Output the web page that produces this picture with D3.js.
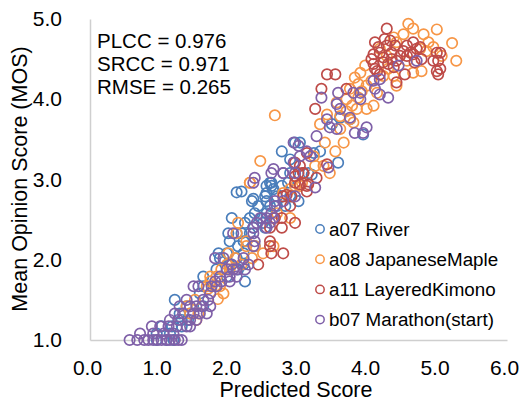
<!DOCTYPE html>
<html>
<head>
<meta charset="utf-8">
<script src="https://cdnjs.cloudflare.com/ajax/libs/d3/7.8.5/d3.min.js"></script>
<style>
  body { margin: 0; background: #fff; }
  svg { font-family: "Liberation Sans", Arial, sans-serif; }
  .axis .domain { stroke: #cfcfcf; stroke-width: 1.5; }
  .axis text { fill: #000; font-size: 21px; }
  .label { font-size: 21.5px; fill: #000; }
  .stats { font-size: 20.5px; fill: #000; }
  .legendText { font-size: 18.8px; fill: #000; }
</style>
</head>
<body>
<svg></svg>
<script>
// [predicted, MOS] pairs
var riverPts = [
  [0.96,1.0],[1.1,1.0],[1.2,1.0],[0.96,1.08],[1.15,1.08],
  [1.03,1.17],[1.18,1.17],[1.32,1.17],[1.32,1.25],[1.41,1.25],
  [1.29,1.33],[1.44,1.33],[1.39,1.42],[1.63,1.42],[1.22,1.5],
  [1.58,1.58],[1.63,1.67],[1.82,1.67],[2.23,1.73],[1.63,1.79],
  [1.97,1.79],[1.82,1.88],[2.13,1.88],[2.01,1.94],[2.21,1.94],
  [1.87,2.02],[2.11,2.02],[1.85,2.08],[1.97,2.08],[2.21,2.08],
  [2.13,2.17],[2.37,2.17],[2.01,2.23],[2.21,2.23],[1.99,2.33],
  [2.11,2.33],[2.18,2.33],[2.3,2.33],[2.35,2.4],[2.52,2.4],
  [2.23,2.46],[2.49,2.46],[2.04,2.52],[2.3,2.52],[2.47,2.52],
  [2.37,2.58],[2.54,2.58],[2.42,2.67],[2.59,2.67],[2.69,2.67],
  [2.81,2.67],[2.33,2.73],[2.54,2.73],[3.0,2.73],[2.52,2.79],
  [2.69,2.79],[2.88,2.79],[2.11,2.84],[2.54,2.92],[2.61,2.92],
  [2.76,2.92],[2.61,2.96],[2.85,2.96],[2.88,3.08],[3.07,3.08],
  [2.76,3.35],[2.95,3.46],[3.02,3.46],[3.31,3.35],[3.22,3.33],
  [3.57,3.21],[3.14,3.08],[3.19,3.06],[2.59,2.96],[2.64,2.88],
  [2.54,2.83],[2.35,2.76],[2.18,2.85],[3.93,3.56],[3.48,3.69],
  [3.6,3.77],[3.74,3.75],[2.88,3.25]
];
var maplePts = [
  [1.53,1.25],[1.44,1.33],[1.56,1.33],[1.39,1.42],[1.51,1.5],
  [1.92,1.58],[1.84,1.51],[1.7,1.64],[1.68,1.67],[1.8,1.67],
  [1.87,1.67],[1.73,1.73],[1.73,1.79],[1.82,1.79],[1.89,1.88],
  [2.01,1.88],[1.97,1.94],[2.18,1.94],[2.09,2.02],[2.33,2.02],
  [1.99,2.08],[2.49,2.08],[2.25,2.17],[2.37,2.17],[2.64,2.17],
  [2.25,2.23],[2.11,2.33],[2.13,2.46],[2.88,2.52],[2.69,2.58],
  [2.95,2.92],[3.02,2.92],[2.3,2.96],
  [4.58,4.94],[4.65,4.88],[4.8,4.81],[4.99,4.87],[5.21,4.7],
  [5.27,4.48],[4.87,4.71],[4.94,4.65],[4.77,4.35],[4.37,4.77],
  [4.51,4.81],[3.96,4.42],[3.89,4.33],[3.81,4.27],[3.86,4.19],
  [3.74,4.13],[3.69,4.0],[3.84,3.88],[3.98,3.88],[4.08,3.92],
  [3.74,3.75],[3.6,3.63],[3.41,3.81],[3.31,3.69],[3.65,3.46],
  [3.53,3.35],[3.38,3.46],[3.22,3.29],[2.66,3.8],[2.45,3.23],
  [2.3,2.96],[4.37,4.29],[4.65,4.33],[4.22,4.29],[4.41,4.17],
  [3.6,3.79],[3.79,3.71],[3.55,3.96],[3.98,4.17],[4.13,4.08],
  [4.05,4.23],[4.29,4.38],[4.56,4.48],[4.84,4.6],[4.75,4.63],
  [4.41,4.71],[4.27,4.54],[4.17,4.63],[5.06,4.54],[3.36,3.17],
  [3.24,3.17],[3.45,3.08],[3.05,2.96],[2.88,2.88],[2.78,2.83],
  [3.77,3.92],[3.86,4.02],[3.91,4.1],[3.69,3.85]
];
var kimonoPts = [
  [2.42,1.94],[2.61,2.08],[2.78,2.08],[2.59,2.17],[2.59,2.23],
  [2.59,2.4],[2.76,2.4],[2.95,2.46],[2.66,2.52],[2.76,2.52],
  [2.88,2.67],[2.78,2.79],[2.9,2.79],[2.95,2.96],[3.0,3.08],
  [3.07,3.08],[3.12,2.85],
  [4.27,4.88],[4.1,4.71],[4.24,4.75],[4.08,4.56],[4.17,4.58],
  [4.27,4.67],[4.34,4.58],[4.39,4.67],[4.46,4.54],[4.56,4.67],
  [4.65,4.71],[4.75,4.65],[4.65,4.56],[4.77,4.5],[4.56,4.54],
  [4.99,4.58],[5.04,4.58],[4.94,4.48],[5.01,4.48],[4.99,4.35],
  [5.04,4.38],[5.01,4.31],[4.08,4.44],[4.13,4.35],[4.17,4.31],
  [4.29,4.44],[4.37,4.4],[4.41,4.21],[4.53,4.31],[3.41,4.31],
  [3.53,4.31],[3.33,4.13],[3.24,3.88],[3.69,4.13],[2.95,3.21],
  [3.02,3.17],[3.12,3.33],[3.07,3.08],[3.12,2.92],[3.26,3.02],
  [3.41,3.19],[4.22,4.46],[4.22,4.52],[4.61,4.58],[4.41,4.48],
  [2.95,3.04],[2.83,2.81],[3.02,2.94],[3.14,2.94],[4.05,4.5],
  [4.34,4.5],[4.51,4.6],[4.7,4.63],[4.15,4.65],[4.32,4.73],
  [4.67,4.46],[4.1,4.38]
];
var marathonPts = [
  [0.57,1.0],[0.68,1.0],[0.78,1.0],[0.84,1.0],[0.91,1.0],
  [0.97,1.0],[1.03,1.0],[1.1,1.0],[1.15,1.0],[1.22,1.0],
  [1.27,1.0],[1.32,1.0],[0.72,1.08],[0.91,1.08],[1.06,1.08],
  [1.2,1.08],[0.89,1.17],[1.01,1.17],[1.13,1.17],[1.25,1.17],
  [1.39,1.17],[1.44,1.17],[1.15,1.25],[1.27,1.25],[1.44,1.25],
  [1.53,1.25],[1.22,1.33],[1.34,1.33],[1.49,1.33],[1.58,1.33],
  [1.68,1.33],[1.29,1.42],[1.44,1.42],[1.53,1.42],[1.61,1.42],
  [1.73,1.42],[1.39,1.5],[1.63,1.5],[1.7,1.5],[1.73,1.58],
  [1.49,1.67],[1.56,1.67],[1.75,1.67],[1.82,1.67],[1.8,1.73],
  [1.89,1.73],[2.01,1.73],[1.87,1.79],[2.01,1.79],[2.11,1.79],
  [1.97,1.88],[2.06,1.88],[2.11,1.88],[2.23,1.88],[2.04,1.94],
  [2.28,1.94],[1.8,2.02],[1.92,2.02],[2.21,2.02],[2.35,2.17],
  [2.37,2.23],[2.06,2.33],[2.35,2.33],[2.35,2.4],[2.54,2.4],
  [2.4,2.46],[2.59,2.46],[2.45,2.52],[2.54,2.52],[2.64,2.52],
  [2.61,2.58],[2.66,2.67],[2.66,2.73],[2.78,2.73],[2.95,2.79],
  [2.35,2.96],[2.61,3.08],[2.78,3.08],[2.95,3.08],
  [4.44,4.42],[4.7,4.48],[4.17,4.25],[4.08,4.23],[4.1,4.13],
  [4.17,4.06],[4.29,4.02],[3.89,4.08],[3.79,4.08],[3.89,4.0],
  [3.57,4.08],[3.33,4.02],[3.55,3.94],[3.6,3.88],[3.74,3.77],
  [3.41,3.75],[3.45,3.65],[3.55,3.63],[3.81,3.58],[3.93,3.58],
  [3.98,3.65],[3.26,3.54],[2.93,3.46],[3.0,3.42],[3.12,3.35],
  [3.17,3.29],[2.93,3.21],[2.78,3.08],[2.64,3.13],[2.37,3.02],
  [3.43,3.15],[3.24,2.9],[3.02,3.29]
];

var seriesNames = ["a07 River", "a08 JapaneseMaple", "a11 LayeredKimono", "b07 Marathon(start)"];
var seriesColors = ["#4a7ebb", "#f79646", "#be4b48", "#7f60a8"];
var xTicks = [0, 1, 2, 3, 4, 5, 6];
var yTicks = [1, 2, 3, 4, 5];
var statLines = ["PLCC = 0.976", "SRCC = 0.971", "RMSE = 0.265"];

var w = 522, h = 402;

var series = [riverPts, maplePts, kimonoPts, marathonPts].map(function(pts, i){
  return { name: seriesNames[i], color: seriesColors[i], points: pts };
});

var xscale = d3.scaleLinear().domain([0, 6]).range([90, 507]);
var yscale = d3.scaleLinear().domain([1, 5]).range([340, 19]);

var svg = d3.select("svg")
  .attr("width", w)
  .attr("height", h);

// x axis
var xAxis = d3.axisBottom(xscale)
  .tickValues(xTicks)
  .tickFormat(d3.format(".1f"))
  .tickSize(0)
  .tickPadding(20);

svg.append("g").attr("class", "x axis")
  .attr("transform", "translate(0,340)")
  .call(xAxis)
  .selectAll("text").attr("dx", "-3");

// y axis
var yAxis = d3.axisLeft(yscale)
  .tickValues(yTicks)
  .tickFormat(d3.format(".1f"))
  .tickSize(0)
  .tickPadding(28);

svg.append("g").attr("class", "y axis")
  .attr("transform", "translate(90,0)")
  .call(yAxis);

// axis titles
svg.append("text")
  .attr("class", "label")
  .attr("x", 296)
  .attr("y", 397)
  .attr("text-anchor", "middle")
  .text("Predicted Score");

svg.append("text")
  .attr("class", "label")
  .attr("transform", "translate(27,179) rotate(-90)")
  .attr("text-anchor", "middle")
  .text("Mean Opinion Score (MOS)");

// points, drawn in series order so purple ends up on top
series.forEach(function(s){
  svg.append("g")
    .selectAll("circle")
    .data(s.points)
    .enter()
    .append("circle")
    .attr("cx", function(d){ return xscale(d[0]); })
    .attr("cy", function(d){ return yscale(d[1]); })
    .attr("r", 5.2)
    .attr("fill", "none")
    .attr("stroke", s.color)
    .attr("stroke-width", 1.7);
});

// stats block
svg.append("g")
  .selectAll("text")
  .data(statLines)
  .enter()
  .append("text")
  .attr("class", "stats")
  .attr("x", 97)
  .attr("y", function(d, i){ return 48 + i * 23; })
  .text(function(d){ return d; });

// legend
var legend = svg.append("g")
  .selectAll(".legend-item")
  .data(series)
  .enter()
  .append("g")
  .attr("transform", function(d, i){ return "translate(320," + (229 + i * 30.2) + ")"; });

legend.append("circle")
  .attr("r", 4.2)
  .attr("fill", "none")
  .attr("stroke", function(d){ return d.color; })
  .attr("stroke-width", 1.5);

legend.append("text")
  .attr("class", "legendText")
  .attr("x", 9)
  .attr("y", 6.5)
  .text(function(d){ return d.name; });
</script>
</body>
</html>
